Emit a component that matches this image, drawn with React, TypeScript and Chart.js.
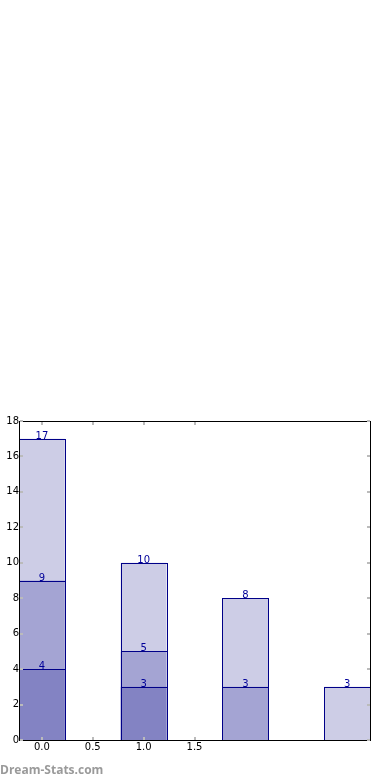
import React, { useEffect, useRef } from "react";
import { Chart, registerables } from "chart.js";

Chart.register(...registerables);

const positions = [0, 1, 2, 3];
const lightValues = [17, 10, 8, 3];
const mediumValues = [9, 5, 3, 0];
const darkValues = [4, 3, 0, 0];
const yTicks = [0, 2, 4, 6, 8, 10, 12, 14, 16, 18];
const xTicks = [0, 0.5, 1.0, 1.5];
const watermark = "Dream-Stats.com";

const toPoints = (vals: number[]) =>
  vals
    .map((v, i) => ({ x: positions[i], y: v }))
    .filter((p) => p.y !== 0);

const framePlugin = {
  id: "frameAndLabels",
  afterDatasetsDraw(chart: any) {
    const ctx = chart.ctx;
    const { left, right, top, bottom } = chart.chartArea;
    ctx.save();
    const hLines = new Set<string>();
    const vLines = new Set<string>();
    chart.data.datasets.forEach((_ds: any, di: number) => {
      const meta = chart.getDatasetMeta(di);
      meta.data.forEach((el: any) => {
        const p = el.getProps(["x", "y", "base", "width"], true);
        const l = Math.round(p.x - p.width / 2);
        const r = Math.round(p.x + p.width / 2);
        const t = Math.round(p.y);
        const b = Math.round(p.base);
        hLines.add(`${l},${r},${t}`);
        hLines.add(`${l},${r},${b}`);
        vLines.add(`${l},${t},${b}`);
        vLines.add(`${r},${t},${b}`);
      });
    });
    ctx.fillStyle = "#000088";
    hLines.forEach((k) => {
      const [l, r, y] = k.split(",").map(Number);
      ctx.fillRect(l, y, r - l + 1, 1);
    });
    vLines.forEach((k) => {
      const [x, t, b] = k.split(",").map(Number);
      ctx.fillRect(x, t, 1, b - t + 1);
    });
    ctx.font = "10px 'DejaVu Sans'";
    ctx.fillStyle = "#000099";
    ctx.textAlign = "center";
    ctx.textBaseline = "alphabetic";
    chart.data.datasets.forEach((ds: any, di: number) => {
      const meta = chart.getDatasetMeta(di);
      meta.data.forEach((el: any, i: number) => {
        const v = ds.data[i].y;
        if (v === null || v === undefined) return;
        ctx.fillText(String(v), el.x, Math.round(el.y));
      });
    });
    ctx.fillStyle = "#000000";
    const L = Math.round(left), R = Math.round(right), T = Math.round(top), B = Math.round(bottom);
    ctx.fillRect(L, T, R - L + 1, 1);
    ctx.fillRect(L, B, R - L + 1, 1);
    ctx.fillRect(L, T, 1, B - T + 1);
    ctx.fillRect(R, T, 1, B - T + 1);
    ctx.fillStyle = "#bbbbbb";
    const ys = chart.scales.y;
    const xs = chart.scales.x;
    const len = 3;
    yTicks.forEach((t) => {
      const py = Math.round(ys.getPixelForValue(t));
      ctx.fillRect(L + 1, py - 1, len, 2);
      ctx.fillRect(R - len, py - 1, len, 2);
    });
    xTicks.forEach((t) => {
      const px = Math.round(xs.getPixelForValue(t));
      ctx.fillRect(px - 1, T + 1, 2, len);
      ctx.fillRect(px - 1, B - len, 2, len);
    });
    ctx.font = "bold 12px 'Open Sans'";
    ctx.fillStyle = "#9a9a9a";
    ctx.textAlign = "left";
    ctx.textBaseline = "alphabetic";
    ctx.fillText(watermark, 0, 774);
    ctx.restore();
  },
};

export default function App() {
  const ref = useRef<HTMLCanvasElement | null>(null);
  useEffect(() => {
    if (!ref.current) return;
    const barStyle = {
      borderWidth: 0,
      barPercentage: 0.9,
      categoryPercentage: 1,
      grouped: false,
    };
    const chart = new Chart(ref.current, {
      type: "bar",
      data: {
        datasets: [
          { label: "dark", data: toPoints(darkValues), backgroundColor: "#8383c3", ...barStyle },
          { label: "medium", data: toPoints(mediumValues), backgroundColor: "#a4a4d3", ...barStyle },
          { label: "light", data: toPoints(lightValues), backgroundColor: "#cdcde6", ...barStyle },
        ] as any,
      },
      options: {
        animation: false,
        responsive: false,
        maintainAspectRatio: false,
        layout: { padding: { top: 421, right: 20, left: 0, bottom: 0 } },
        plugins: { legend: { display: false }, tooltip: { enabled: false } },
        scales: {
          x: {
            type: "linear",
            offset: false,
            min: -0.225,
            max: 3.225,
            afterBuildTicks: (scale: any) => {
              scale.ticks = xTicks.map((v) => ({ value: v }));
            },
            ticks: {
              autoSkip: false,
              maxRotation: 0,
              padding: 1,
              color: "#000000",
              font: { family: "'DejaVu Sans'", size: 10 },
              callback: (v: any) => Number(v).toFixed(1),
            },
            grid: { display: false, drawTicks: false, offset: false },
            border: { display: false },
            afterFit: (scale: any) => {
              scale.height = 40;
            },
          },
          y: {
            min: 0,
            max: 18,
            afterBuildTicks: (scale: any) => {
              scale.ticks = yTicks.map((v) => ({ value: v }));
            },
            ticks: {
              padding: 0,
              color: "#000000",
              font: { family: "'DejaVu Sans'", size: 10 },
            },
            grid: { display: false, drawTicks: false },
            border: { display: false },
            afterFit: (scale: any) => {
              scale.width = 19;
            },
          },
        },
      } as any,
      plugins: [framePlugin],
    });
    return () => chart.destroy();
  }, []);
  return (
    <div style={{ position: "fixed", left: 0, top: 0, width: 390, height: 780, background: "#fff" }}>
      <canvas ref={ref} width={390} height={780} style={{ width: 390, height: 780 }} />
    </div>
  );
}
